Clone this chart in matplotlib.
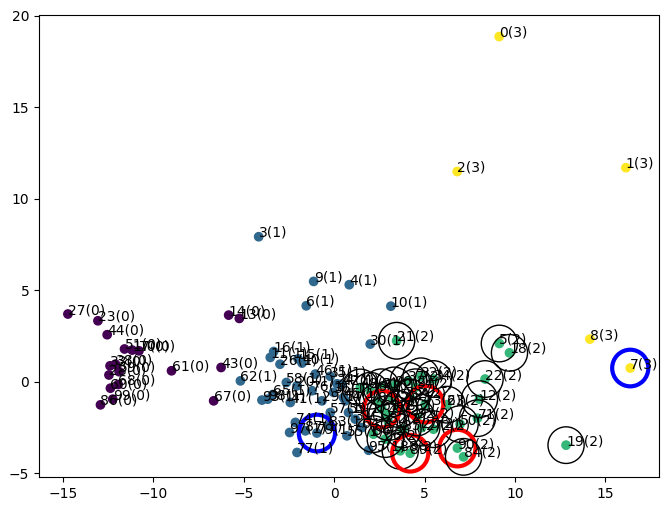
import matplotlib
matplotlib.use('Agg')
import matplotlib.pyplot as plt
from matplotlib.patches import Circle

# point index, x, y, cluster label
idx = [27, 23, 44, 51, 17, 70, 33, 38, 28, 59, 60, 68, 99, 86, 61, 14, 13, 43, 67,
       0, 1, 2, 8, 7,
       3, 9, 4, 6, 10, 30, 16, 11, 26, 40, 15, 62, 58, 20, 35, 24, 46, 65, 93, 98,
       41, 76, 29, 36, 42, 45, 54, 57, 53, 31, 64, 74, 97, 87, 79, 83, 55, 77, 95,
       21, 5, 18, 22, 12, 71, 50, 90, 84, 19, 34, 63, 72, 88, 89, 92, 25, 37, 32,
       47, 48, 49, 52, 56, 66, 69, 73, 75, 78, 81, 82, 85, 91, 94, 96]
xs = [-14.73, -13.07, -12.56, -11.60, -11.18, -10.80, -12.40, -12.10, -12.46, -11.90,
      -12.38, -11.95, -12.25, -12.93, -9.00, -5.84, -5.25, -6.26, -6.67,
      9.12, 16.13, 6.80, 14.14, 16.37,
      -4.18, -1.14, 0.83, -1.55, 3.13, 1.99, -3.35, -3.54, -3.00, -1.78, -2.00, -5.19,
      -2.65, -2.06, -0.22, 0.15, -1.05, -3.40, -4.00, -3.68, -2.43, -1.23, -0.68, -0.04,
      0.42, 0.51, 0.61, -0.22, 0.79, 1.16, 1.53, -2.15, -2.47, -1.60, -0.96, -0.31,
      0.70, -2.06, 1.90,
      3.45, 9.13, 9.69, 8.34, 8.03, 7.92, 6.96, 6.81, 7.15, 12.82, 5.49, 6.23, 5.49,
      3.65, 4.20, 4.57, 4.84, 4.10, 4.80, 2.91, 1.44, 1.99, 4.20, 2.82, 2.17, 2.63,
      5.03, 3.20, 3.60, 2.40, 3.00, 3.80, 2.60, 4.50, 3.30]
ys = [3.70, 3.33, 2.57, 1.79, 1.73, 1.69, 0.87, 0.96, 0.37, 0.55, -0.35, -0.15, -0.95,
      -1.26, 0.60, 3.64, 3.46, 0.78, -1.04,
      18.85, 11.69, 11.48, 2.33, 0.75,
      7.92, 5.48, 5.30, 4.15, 4.13, 2.06, 1.65, 1.33, 0.96, 1.02, 1.25, 0.05, -0.04,
      -0.22, 0.30, -0.11, 0.42, -0.70, -1.00, -0.95, -1.13, -0.49, -1.04, -0.58, -0.13,
      -0.86, -1.04, -1.68, -1.68, -2.04, -2.50, -2.22, -2.77, -2.68, -2.80, -2.40,
      -2.95, -3.86, -3.74,
      2.24, 2.09, 1.58, 0.15, -0.95, -1.99, -2.31, -3.62, -4.10, -3.46, 0.15, -1.25,
      -2.59, -3.77, -3.90, -1.95, -2.50, 0.05, 0.30, -1.77, -0.31, -0.49, -0.86, -3.13,
      -2.86, -1.49, -1.22, -0.90, -1.50, -1.10, -2.20, -2.60, -0.30, -0.30, -0.20]
cluster = [0] * 19 + [3] * 5 + [1] * 39 + [2] * 35

red_idx = [69, 73, 89, 90]
blue_idx = [7, 79]

fig = plt.figure(figsize=(6.7, 5.11), dpi=100)
ax = fig.add_axes([39 / 670, 1 - 477 / 511, 620 / 670, 461.5 / 511])

ax.scatter(xs, ys, c=cluster, cmap='viridis')
for i, x, y, c in zip(idx, xs, ys, cluster):
    ax.text(x, y, f'{i}({c})')

for i, x, y, c in zip(idx, xs, ys, cluster):
    if c == 2:
        ax.add_patch(Circle((x, y), 1.0, fill=False, edgecolor='black', linewidth=1))
    if i in red_idx:
        ax.add_patch(Circle((x, y), 1.0, fill=False, edgecolor='red', linewidth=3))
    if i in blue_idx:
        ax.add_patch(Circle((x, y), 1.0, fill=False, edgecolor='blue', linewidth=3))

ax.set_xlim(-16.33, 17.96)
ax.set_ylim(-5.2, 20)
fig.savefig('out.png', dpi=100)
